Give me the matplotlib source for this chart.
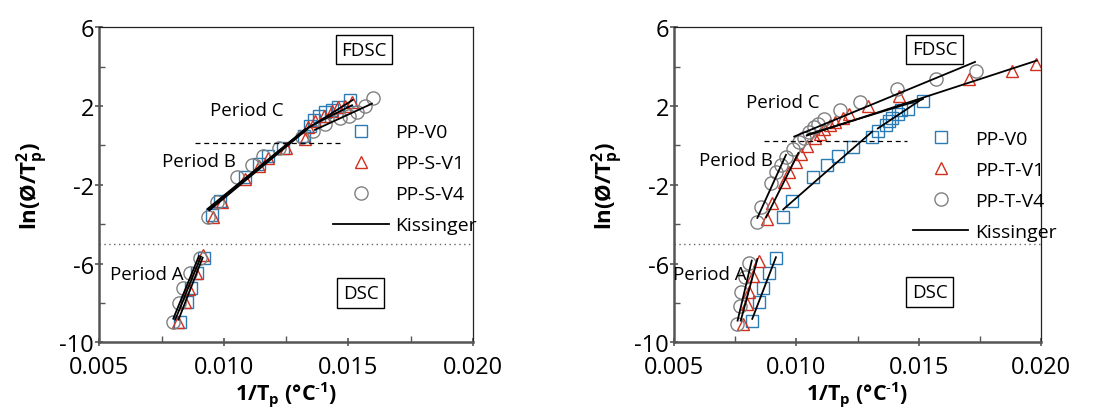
import numpy as np
import matplotlib.pyplot as plt
from matplotlib.lines import Line2D
from matplotlib.ticker import FixedLocator, MultipleLocator, FormatStrFormatter

plt.rcParams['font.family'] = ['Open Sans', 'DejaVu Sans']
plt.rcParams['mathtext.fontset'] = 'custom'
plt.rcParams['mathtext.rm'] = 'Open Sans'
plt.rcParams['mathtext.bf'] = 'Open Sans:bold'
plt.rcParams['axes.unicode_minus'] = False

# ---- left panel: PP-V0, PP-S-V1, PP-S-V4 (periods A, B, C) ----
left_v0_x = [0.00825, 0.00851, 0.00868, 0.00893, 0.00922,
             0.00954, 0.00985, 0.01085, 0.01143, 0.01179, 0.01239, 0.01322,
             0.01345, 0.01362, 0.01382, 0.01406, 0.01433, 0.01460, 0.01507]
left_v0_y = [-8.95, -7.95, -7.25, -6.48, -5.72,
             -3.53, -2.80, -1.62, -0.94, -0.55, -0.13, 0.50,
             1.00, 1.31, 1.48, 1.68, 1.82, 1.94, 2.33]
left_v1_x = [0.00815, 0.00843, 0.00862, 0.00890, 0.00915,
             0.00958, 0.00991, 0.01087, 0.01143, 0.01179, 0.01250, 0.01326,
             0.01340, 0.01366, 0.01402, 0.01433, 0.01460, 0.01487, 0.01514]
left_v1_y = [-8.97, -7.97, -7.28, -6.50, -5.58,
             -3.65, -2.89, -1.70, -1.03, -0.65, -0.13, 0.33,
             0.92, 1.26, 1.51, 1.77, 1.94, 2.02, 2.22]
left_v4_x = [0.00797, 0.00818, 0.00836, 0.00864, 0.00904,
             0.00938, 0.00974, 0.01054, 0.01115, 0.01159, 0.01223, 0.01313,
             0.01357, 0.01407, 0.01467, 0.01504, 0.01534, 0.01567, 0.01598]
left_v4_y = [-8.98, -8.00, -7.26, -6.50, -5.70,
             -3.65, -2.86, -1.62, -0.98, -0.55, -0.13, 0.43,
             0.75, 1.09, 1.38, 1.51, 1.72, 1.99, 2.40]

# Kissinger fits (start/end of each segment)
kis_left_x0 = [0.00797, 0.00805, 0.00818, 0.00935, 0.00938, 0.00942, 0.01333, 0.01338, 0.01366]
kis_left_x1 = [0.00900, 0.00908, 0.00915, 0.01325, 0.01330, 0.01335, 0.01518, 0.01515, 0.01595]
kis_left_y0 = [-8.80, -8.85, -8.85, -3.22, -3.25, -3.30, 0.83, 0.91, 0.79]
kis_left_y1 = [-5.62, -5.65, -5.70, 0.80, 0.85, 0.82, 2.31, 2.04, 2.12]

# ---- right panel: PP-V0, PP-T-V1, PP-T-V4 ----
right_v0_x = [0.00819, 0.00845, 0.00864, 0.00887, 0.00916,
              0.00946, 0.00983, 0.01069, 0.01127, 0.01172, 0.01233, 0.01308,
              0.01333, 0.01367, 0.01378, 0.01390, 0.01415, 0.01428, 0.01458, 0.01517]
right_v0_y = [-8.93, -7.97, -7.22, -6.48, -5.72,
              -3.62, -2.84, -1.59, -0.98, -0.55, -0.10, 0.41,
              0.75, 1.05, 1.25, 1.40, 1.62, 1.78, 1.85, 2.28]
right_v1_x = [0.00780, 0.00796, 0.00807, 0.00821, 0.00847,
              0.00879, 0.00900, 0.00948, 0.00971, 0.00997, 0.01019, 0.01044,
              0.01076, 0.01095, 0.01114, 0.01137, 0.01159, 0.01189, 0.01214,
              0.01294, 0.01421, 0.01708, 0.01881, 0.01981]
right_v1_y = [-9.07, -8.05, -7.43, -6.61, -5.85,
              -3.74, -2.93, -1.88, -1.37, -0.83, -0.44, -0.02,
              0.39, 0.60, 0.82, 1.03, 1.21, 1.38, 1.58,
              1.99, 2.50, 3.38, 3.80, 4.14]
right_v4_x = [0.00755, 0.00767, 0.00774, 0.00788, 0.00807,
              0.00840, 0.00856, 0.00895, 0.00918, 0.00935, 0.00958, 0.00985,
              0.01012, 0.01031, 0.01050, 0.01070, 0.01089, 0.01114, 0.01178,
              0.01262, 0.01411, 0.01572, 0.01736]
right_v4_y = [-9.05, -8.15, -7.45, -6.70, -5.95,
              -3.87, -3.15, -1.91, -1.37, -0.97, -0.58, -0.17,
              0.15, 0.40, 0.66, 0.91, 1.08, 1.33, 1.79,
              2.23, 2.85, 3.36, 3.80]

kis_right_x0 = [0.00759, 0.00772, 0.00819, 0.00840, 0.00876, 0.00946, 0.00991, 0.01042, 0.01045, 0.01333]
kis_right_x1 = [0.00817, 0.00840, 0.00916, 0.00957, 0.01008, 0.01310, 0.01731, 0.01984, 0.01517, 0.01517]
kis_right_y0 = [-8.90, -8.90, -8.81, -3.68, -3.65, -3.25, 0.45, 0.50, 0.55, 0.86]
kis_right_y1 = [-5.85, -5.77, -5.68, -0.48, -0.38, 0.70, 4.24, 4.31, 2.35, 2.38]

left_labels = ['PP-V0', 'PP-S-V1', 'PP-S-V4']
right_labels = ['PP-V0', 'PP-T-V1', 'PP-T-V4']

y_major = [-10, -6, -2, 2, 6]
y_minor = [-8, -4, 0, 4]

BLUE = '#2b7bb6'
RED = '#d2301f'
GRAY = '#808080'
AXIS_GRAY = '#555555'


def style_axes(ax):
    ax.set_xlim(0.005, 0.020)
    ax.set_ylim(-10, 6)
    ax.xaxis.set_major_locator(MultipleLocator(0.005))
    ax.xaxis.set_minor_locator(MultipleLocator(0.0025))
    ax.xaxis.set_major_formatter(FormatStrFormatter('%.3f'))
    ax.yaxis.set_major_locator(FixedLocator(y_major))
    ax.yaxis.set_minor_locator(FixedLocator(y_minor))
    ax.tick_params(which='major', direction='inout', length=6, width=1.2,
                   color=AXIS_GRAY, labelsize=17)
    ax.tick_params(axis='x', which='major', pad=6)
    ax.tick_params(axis='y', which='major', pad=1)
    ax.tick_params(which='minor', direction='in', length=4, width=1.0, color=AXIS_GRAY)
    for side in ['bottom', 'left']:
        ax.spines[side].set_color(AXIS_GRAY)
        ax.spines[side].set_linewidth(1.8)
    for side in ['top', 'right']:
        ax.spines[side].set_color('#222222')
        ax.spines[side].set_linewidth(0.9)
    ax.set_xlabel(r'1/T$_\mathregular{p}$ (°C$^\mathregular{\text{-}1}$)', fontsize=15.5,
                  fontweight='bold', labelpad=0)
    ax.set_ylabel(r'ln(Ø/T$_\mathregular{p}^\mathregular{2}$)', fontsize=16,
                  fontweight='bold', labelpad=6)


def draw_panel(ax, xs, ys, labels, kis, dash_y, dash_x, period_pos, fdsc_pos, dsc_pos, leg_anchor):
    markers = ['s', '^', 'o']
    colors = [BLUE, RED, GRAY]
    sizes = [8, 9, 9.5]
    handles = []
    for x, y, m, c, s, lab in zip(xs, ys, markers, colors, sizes, labels):
        h, = ax.plot(x, y, linestyle='none', marker=m, markersize=s,
                     markerfacecolor='none', markeredgecolor=c, markeredgewidth=1.0,
                     label=lab)
        handles.append(h)

    # Kissinger lines
    x0, x1, y0, y1 = kis
    for a, b, c, d in zip(x0, x1, y0, y1):
        ax.plot([a, b], [c, d], color='black', lw=1.3)
    handles.append(Line2D([], [], color='black', lw=1.3, label='Kissinger'))

    # DSC / FDSC separators
    ax.axhline(-5, color='#666666', lw=1.0, linestyle=(0, (1, 2.5)))
    ax.plot(dash_x, [dash_y, dash_y], color='black', lw=0.9, linestyle=(0, (4, 3)))

    for txt, (px, py) in zip(['Period A', 'Period B', 'Period C'], period_pos):
        ax.text(px, py, txt, fontsize=13.5, ha='center', va='center')

    box = dict(boxstyle='square,pad=0.3', facecolor='white', edgecolor='black', lw=1.0)
    ax.text(fdsc_pos[0], fdsc_pos[1], 'FDSC', fontsize=13.5, ha='center', va='center', bbox=box)
    ax.text(dsc_pos[0], dsc_pos[1], 'DSC', fontsize=13.5, ha='center', va='center', bbox=box)

    ax.legend(handles=handles, loc='upper left', bbox_to_anchor=leg_anchor,
              frameon=False, fontsize=14, handlelength=2.85, handletextpad=0.35,
              labelspacing=0.67, borderpad=0, borderaxespad=0)
    style_axes(ax)


fig = plt.figure(figsize=(11.1, 4.14), dpi=100)
ax1 = fig.add_axes([0.0895, 0.1708, 0.3364, 0.7609])
ax2 = fig.add_axes([0.6075, 0.1708, 0.3301, 0.7609])

draw_panel(ax1,
           [left_v0_x, left_v1_x, left_v4_x],
           [left_v0_y, left_v1_y, left_v4_y],
           left_labels,
           (kis_left_x0, kis_left_x1, kis_left_y0, kis_left_y1),
           0.12, [0.00884, 0.01467],
           [(0.0069, -6.53), (0.00902, -0.81), (0.01092, 1.80)],
           (0.01563, 4.87), (0.0155, -7.5),
           (0.626, 0.695))

draw_panel(ax2,
           [right_v0_x, right_v1_x, right_v4_x],
           [right_v0_y, right_v1_y, right_v4_y],
           right_labels,
           (kis_right_x0, kis_right_x1, kis_right_y0, kis_right_y1),
           0.2, [0.00869, 0.01454],
           [(0.00646, -6.52), (0.00753, -0.74), (0.00946, 2.19)],
           (0.01565, 4.88), (0.01546, -7.44),
           (0.651, 0.675))

fig.savefig('out.png', dpi=100)
